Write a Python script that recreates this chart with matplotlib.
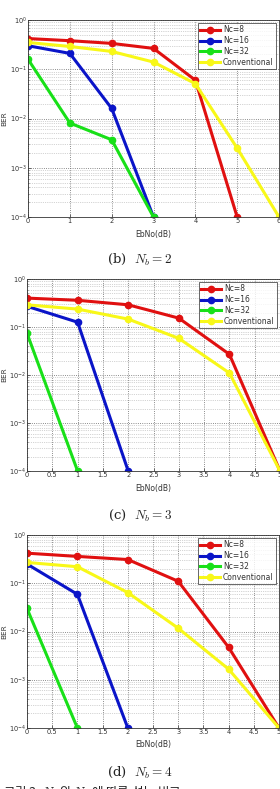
import matplotlib
matplotlib.use("Agg")
import matplotlib.pyplot as plt
from matplotlib.ticker import LogLocator, NullFormatter

plt.rcParams['mathtext.fontset'] = 'cm'

series_names = ["Nc=8", "Nc=16", "Nc=32", "Conventional"]
series_colors = ["#e01010", "#0a14c8", "#18e018", "#f8f818"]

# Panel (b) N_b = 2
p1_x = [[0, 1, 2, 3, 4, 5], [0, 1, 2, 3], [0, 1, 2, 3], [0, 1, 2, 3, 4, 5, 6]]
p1_y = [[0.42, 0.38, 0.335, 0.265, 0.06, 1e-4],
        [0.30, 0.21, 0.016, 1e-4],
        [0.16, 0.0081, 0.0037, 1e-4],
        [0.35, 0.29, 0.23, 0.14, 0.051, 0.0025, 1e-4]]
p1_xticks = [0, 1, 2, 3, 4, 5, 6]

# Panel (c) N_b = 3
p2_x = [[0, 1, 2, 3, 4, 5], [0, 1, 2], [0, 1], [0, 1, 2, 3, 4, 5]]
p2_y = [[0.40, 0.36, 0.29, 0.153, 0.027, 1e-4],
        [0.27, 0.126, 1e-4],
        [0.074, 1e-4],
        [0.29, 0.236, 0.146, 0.058, 0.011, 1e-4]]
p2_xticks = [0, 0.5, 1, 1.5, 2, 2.5, 3, 3.5, 4, 4.5, 5]

# Panel (d) N_b = 4
p3_x = [[0, 1, 2, 3, 4, 5], [0, 1, 2], [0, 1], [0, 1, 2, 3, 4, 5]]
p3_y = [[0.42, 0.36, 0.31, 0.11, 0.0047, 1e-4],
        [0.25, 0.059, 1e-4],
        [0.03, 1e-4],
        [0.27, 0.22, 0.064, 0.0117, 0.00166, 1e-4]]
p3_xticks = [0, 0.5, 1, 1.5, 2, 2.5, 3, 3.5, 4, 4.5, 5]

captions = [r"(b)  $N_b = 2$", r"(c)  $N_b = 3$", r"(d)  $N_b = 4$"]

W, H = 280, 789
fig = plt.figure(figsize=(W / 100, H / 100), dpi=100)
fig.patch.set_facecolor("white")

# pixel boxes: left, top, right, bottom
boxes = [(28, 20, 279, 217), (27, 279, 280, 471), (27, 535, 279, 728)]
xlabel_y = [235, 488, 744]
caption_y = [259, 515, 772]
panels = [(p1_x, p1_y, p1_xticks), (p2_x, p2_y, p2_xticks), (p3_x, p3_y, p3_xticks)]

for (l, t, r, b), (xs, ys, xt), xly, cy, cap in zip(boxes, panels, xlabel_y, caption_y, captions):
    ax = fig.add_axes([l / W, 1 - b / H, (r - l) / W, (b - t) / H])
    for x, y, c, n in zip(xs, ys, series_colors, series_names):
        ax.plot(x, y, color=c, lw=2.2, marker='o', ms=4.5, label=n)
    ax.set_yscale('log')
    ax.set_ylim(1e-4, 1)
    ax.set_xlim(xt[0], xt[-1])
    ax.set_xticks(xt)
    ax.set_xticklabels([f"{v:g}" for v in xt])
    ax.yaxis.set_major_locator(LogLocator(base=10, numticks=10))
    ax.yaxis.set_minor_locator(LogLocator(base=10, subs=range(2, 10), numticks=20))
    ax.yaxis.set_minor_formatter(NullFormatter())
    ax.grid(True, which='major', ls=':', color='#666666', lw=0.6)
    ax.grid(True, which='minor', axis='y', ls=':', color='#aaaaaa', lw=0.5)
    ax.tick_params(axis='both', which='major', labelsize=4.8, colors='#333333',
                   length=2, width=0.5, pad=1.0, direction='in')
    ax.tick_params(axis='y', which='minor', length=1, width=0.4, direction='in')
    for s in ax.spines.values():
        s.set_linewidth(0.6)
        s.set_color('#333333')
    fig.text(4 / W, 1 - (t + b) / 2 / H, "BER", fontsize=5.2, color='#333333',
             ha='center', va='center', rotation=90)
    fig.text((l + r) / 2 / W, 1 - xly / H, "EbNo(dB)", fontsize=5.5, color='#333333',
             ha='center', va='center')
    leg = ax.legend(loc='upper right', fontsize=5.5, frameon=True, fancybox=False,
                    borderpad=0.3, labelspacing=0.25, handlelength=2.6,
                    handletextpad=0.4, borderaxespad=0.4, markerscale=1.0)
    leg.get_frame().set_edgecolor('#222222')
    leg.get_frame().set_linewidth(0.6)
    for txt in leg.get_texts():
        txt.set_color('#333333')
    fig.text(0.5, 1 - cy / H, cap, fontsize=9.5, ha='center', va='center',
             family='DejaVu Serif', color='#222222')

fig.text(0.01, 1 - 793 / H, r"그림 3. $N_c$ 와 $N_b$ 에 따른 성능 비교", fontsize=9,
         ha='left', va='center', family=['Noto Sans CJK KR', 'DejaVu Sans'], color='#222222')

fig.savefig("out.png", dpi=100)
